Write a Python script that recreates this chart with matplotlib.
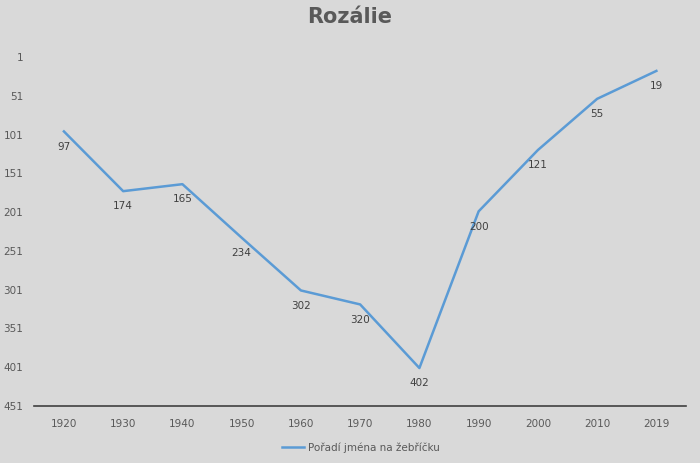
import matplotlib.pyplot as plt

years = ['1920', '1930', '1940', '1950', '1960', '1970', '1980', '1990', '2000', '2010', '2019']
ranks = [97, 174, 165, 234, 302, 320, 402, 200, 121, 55, 19]
yticks = [1, 51, 101, 151, 201, 251, 301, 351, 401, 451]

bg = '#d9d9d9'
txt = '#595959'

fig = plt.figure(figsize=(7, 4.63), dpi=100, facecolor=bg)
ax = fig.add_axes([0.049, 0.123, 0.931, 0.754], facecolor=bg)

x = list(range(len(years)))
ax.plot(x, ranks, color='#5b9bd5', linewidth=1.8, label='Pořadí jména na žebříčku')
for xi, r in zip(x, ranks):
    ax.annotate(str(r), (xi, r), xytext=(0, -11), textcoords='offset points',
                ha='center', va='center', fontsize=7.5, color='#404040')

ax.set_xlim(-0.5, len(years) - 0.5)
ax.set_ylim(451, 1)
ax.set_yticks(yticks)
ax.set_xticks(x)
ax.set_xticklabels(years)
ax.tick_params(axis='both', length=0, labelsize=7.5, colors=txt)
ax.tick_params(axis='x', pad=9)
ax.tick_params(axis='y', pad=8)
for s in ['top', 'right', 'left']:
    ax.spines[s].set_visible(False)
ax.spines['bottom'].set_color('#404040')
ax.spines['bottom'].set_linewidth(1.2)

fig.suptitle('Rozálie', y=0.985, fontsize=15, fontweight='bold', color=txt)
fig.legend(loc='center', bbox_to_anchor=(0.515, 0.033), frameon=False,
           fontsize=7.5, labelcolor=txt, handlelength=2.2, handletextpad=0.3)

fig.savefig('out.png', dpi=100, facecolor=bg)
